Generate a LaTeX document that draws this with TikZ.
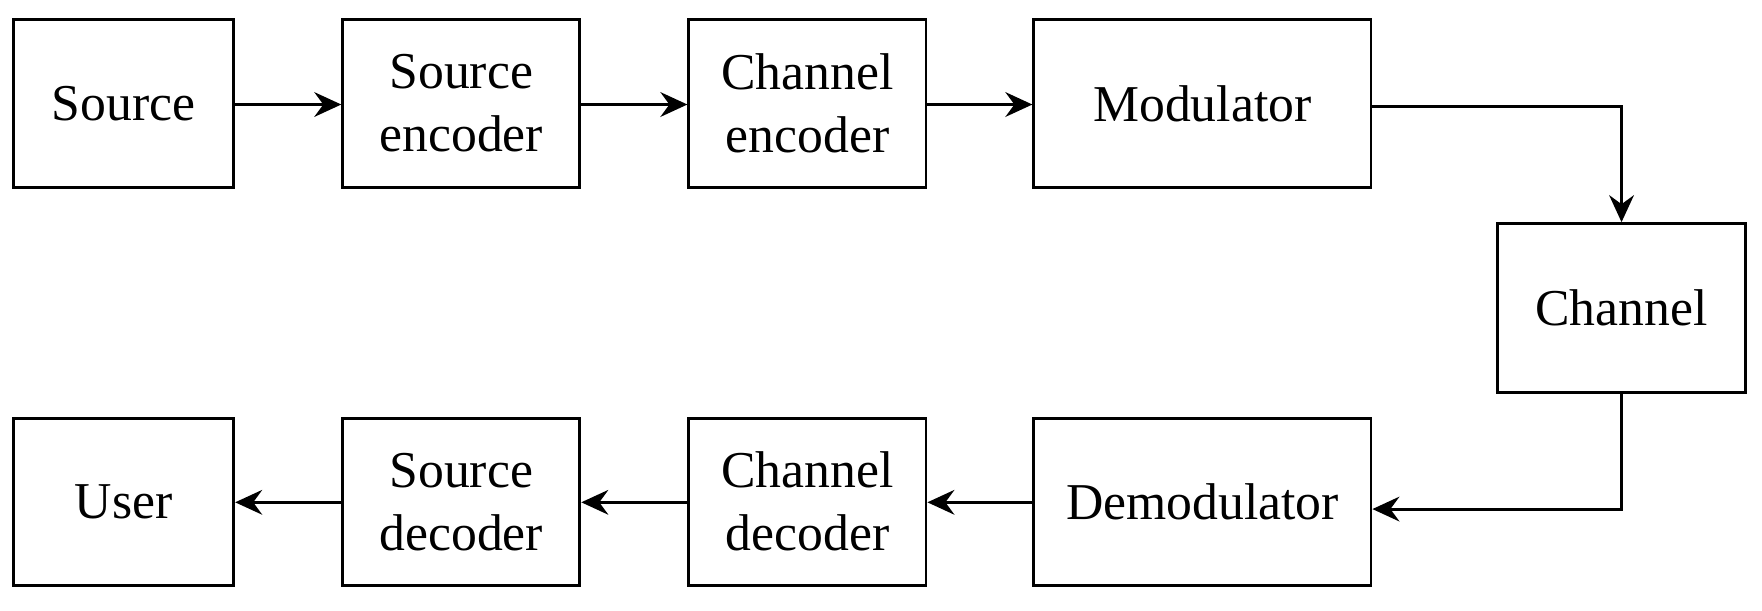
\documentclass[tikz,border=0pt]{standalone}
\usepackage{fontspec}
\setmainfont{Liberation Serif}
\usetikzlibrary{arrows.meta}
\begin{document}
\begin{tikzpicture}[x=0.5pt,y=-0.5pt,
  blk/.style={draw,line width=1.3pt,inner sep=0pt,align=center,font=\fontsize{23}{28}\selectfont},
  conn/.style={line width=1.3pt,-{Stealth[length=12pt,width=11pt,inset=4pt]}}]
\useasboundingbox (0,0) rectangle (1568,543);
\newcommand{\bx}[6]{\node[blk,minimum width={(#4-#2)*0.5pt},minimum height={(#5-#3)*0.5pt}] (#1) at ({(#2+#4)/2},{(#3+#5)/2}) {#6};}
\bx{src}{12}{17}{208}{167}{Source}
\bx{senc}{305}{17}{516}{167}{Source\\encoder}
\bx{cenc}{613}{17}{824}{167}{Channel\\encoder}
\bx{mod}{920}{17}{1220}{167}{Modulator}
\bx{ch}{1333}{199}{1553}{349}{Channel}
\bx{usr}{12}{372}{208}{521}{User}
\bx{sdec}{305}{372}{516}{521}{Source\\decoder}
\bx{cdec}{613}{372}{824}{521}{Channel\\decoder}
\bx{dem}{920}{372}{1220}{521}{Demodulator}
\draw[conn] (src.east|-0,93) -- (senc.west|-0,93);
\draw[conn] (senc.east|-0,93) -- (cenc.west|-0,93);
\draw[conn] (cenc.east|-0,93) -- (mod.west|-0,93);
\draw[conn] (mod.east|-0,95) -| (ch.north);
\draw[conn] (ch.south) |- (dem.east|-0,453);
\draw[conn] (dem.west|-0,447) -- (cdec.east|-0,447);
\draw[conn] (cdec.west|-0,447) -- (sdec.east|-0,447);
\draw[conn] (sdec.west|-0,447) -- (usr.east|-0,447);
\end{tikzpicture}
\end{document}
